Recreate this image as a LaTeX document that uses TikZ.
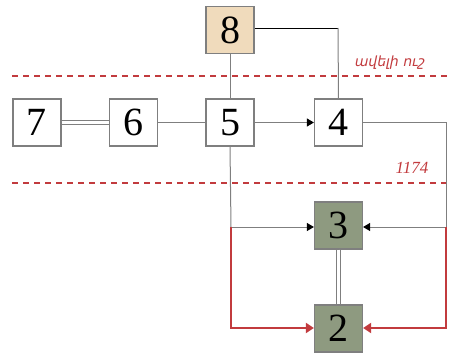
\documentclass[tikz,border=0pt]{standalone}
\usepackage{fontspec}
\setmainfont{Liberation Serif}
\newfontfamily\armfont{DejaVu Sans}[FakeSlant=0.2]
\newfontfamily\numfont{Liberation Serif}
\usetikzlibrary{arrows.meta}
\definecolor{redl}{HTML}{C23B3E}
\definecolor{grayl}{HTML}{7F7F7F}
\definecolor{tanf}{HTML}{F0DBBC}
\definecolor{olivef}{HTML}{8E9A80}
\begin{document}
\begin{tikzpicture}[x=1pt,y=-1pt,
  box/.style={draw=grayl,line width=1.2pt,minimum width=48pt,minimum height=47pt,inner sep=0pt,font=\fontsize{40}{40}\selectfont},
  conn/.style={draw=grayl,line width=1pt},
  dbl/.style={draw=grayl,double=white,double distance=2.5pt,line width=0.9pt},
  arr/.style={conn,-{Triangle[length=7pt,width=8pt,color=black]}},
  rarr/.style={draw=redl,line width=2pt,-{Triangle[length=8pt,width=10pt]}},
  sep/.style={draw=redl,line width=1.3pt,dash pattern=on 6pt off 5pt}]
\useasboundingbox (0,0) rectangle (450,354);
\node[box,fill=tanf] (n8) at (230,30) {8};
\node[box,fill=white] (n7) at (37,122.5) {7};
\node[box,fill=white] (n6) at (133.5,122.5) {6};
\node[box,fill=white] (n5) at (230,122.5) {5};
\node[box,fill=white] (n4) at (338.5,122.5) {4};
\node[box,fill=olivef] (n3) at (338.5,225.5) {3};
\node[box,fill=olivef] (n2) at (338.5,328.5) {2};
\coordinate (c8) at (338,28);
\coordinate (cr) at (446,122.5);
\coordinate (cr3) at (446,227);
\coordinate (cl3) at (231,227);
\coordinate (cr2) at (446,328);
\coordinate (cl2) at (231,328);
\draw[sep] (12,76) -- (448,76);
\draw[sep] (12,183) -- (448,183);
\node[anchor=base east,text=redl,font=\armfont\fontsize{14}{14}\selectfont] (t1) at (428,66) {ավելի ուշ};
\node[anchor=base east,text=redl,font=\numfont\itshape\fontsize{17}{17}\selectfont] (t2) at (432,173) {1174};
\draw[conn] (n8) -- (n5);
\draw[draw=black,line width=1pt] (n8.east |- c8) -- (c8);
\draw[conn] (c8) -- (n4.north);
\draw[dbl] (n7) -- (n6);
\draw[conn] (n6) -- (n5);
\draw[arr] (n5) -- (n4);
\draw[conn] (n4.east) -- (cr) -- (cr3);
\draw[arr] (cr3) -- (n3.east |- cr3);
\draw[conn] (n5.south) -- (cl3);
\draw[arr] (cl3) -- (n3.west |- cl3);
\draw[dbl] (n3) -- (n2);
\draw[rarr] (cl3) -- (cl2) -- (n2.west |- cl2);
\draw[rarr] (cr3) -- (cr2) -- (n2.east |- cr2);
\end{tikzpicture}
\end{document}
